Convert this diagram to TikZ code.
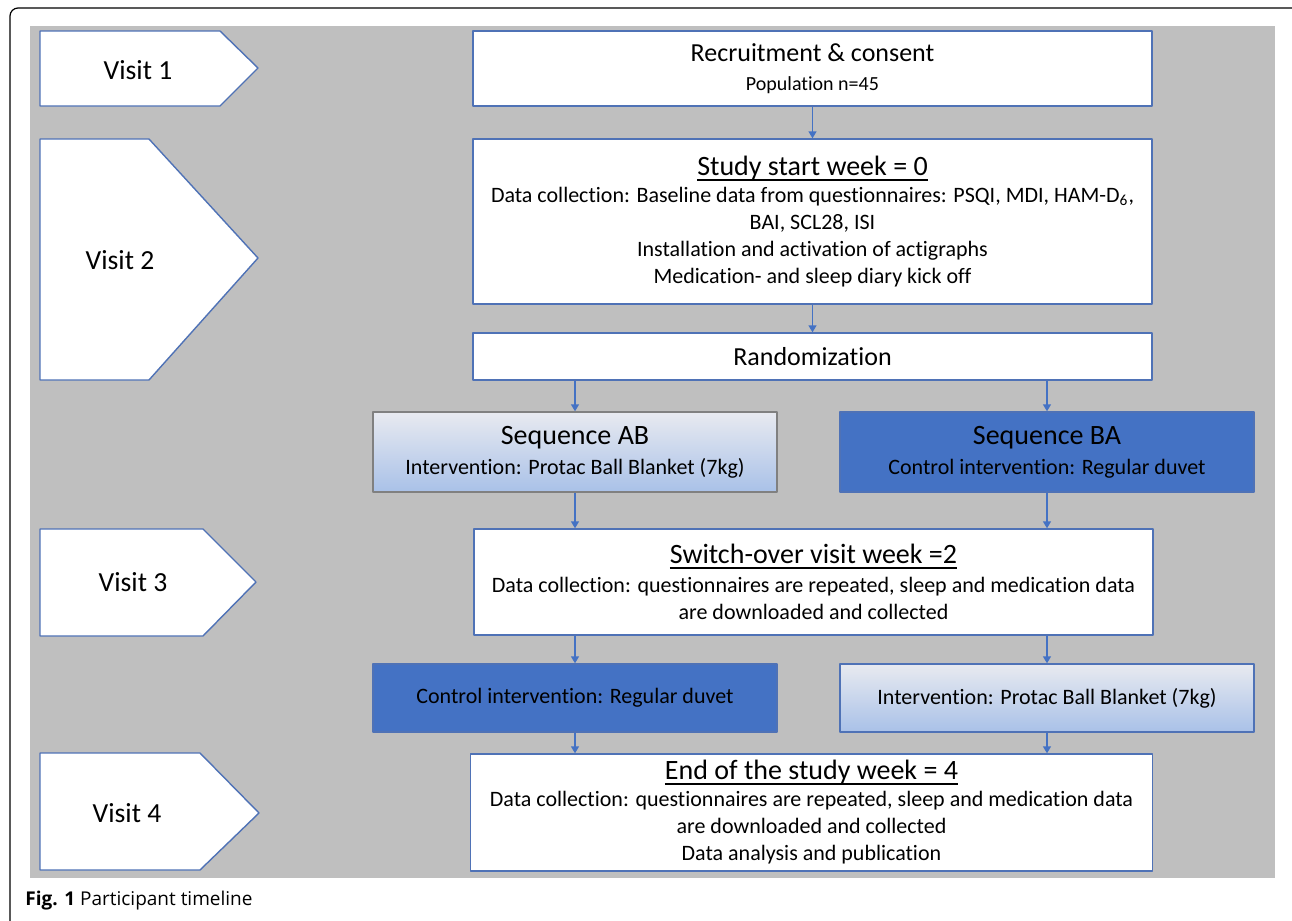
\documentclass[tikz,border=0pt]{standalone}
\usepackage{fontspec}
\setmainfont{Carlito}[Ligatures=NoCommon]
\newfontfamily\capfont{Open Sans}
\usetikzlibrary{arrows.meta}
\definecolor{panelgray}{HTML}{BFBFBF}
\definecolor{boxblue}{HTML}{4472C4}
\definecolor{edgeblue}{HTML}{4F72B6}
\definecolor{lightblue}{HTML}{A9C1E8}
\definecolor{paleblue}{HTML}{E8EAF0}
\newcommand{\titleul}[1]{\setbox0\hbox{#1}\rlap{\rule[-2.6pt]{\wd0}{0.9pt}}\box0}
\newcommand{\bigtxt}{\fontsize{14}{17}\selectfont}
\newcommand{\midtxt}{\fontsize{13}{16}\selectfont}
\newcommand{\smalltxt}{\fontsize{10}{12}\selectfont}
\begin{document}
\begin{tikzpicture}[x=0.5pt,y=-0.5pt,line join=round,
  box/.style={draw=edgeblue,line width=0.7pt,fill=white,inner sep=0pt,align=center,
    font=\fontsize{11}{13.5}\selectfont},
  darkbox/.style={box,fill=boxblue},
  fadebox/.style={box,top color=paleblue,bottom color=lightblue},
  visitedge/.style={draw=edgeblue,line width=0.7pt,fill=white},
  visitlbl/.style={font=\fontsize{13.8}{16}\selectfont},
  arr/.style={draw=boxblue,line width=0.75pt,-{Triangle[length=3.5pt,width=4pt]}}]
\useasboundingbox (0,0) rectangle (1292,921);
% frame and panel
\draw[line width=0.6pt,rounded corners=4pt] (10,8) rectangle (1300,940);
\fill[panelgray] (30,26) rectangle (1275,878);
% visit markers
\draw[visitedge] (40,31)--(220,31)--(258,68)--(220,106)--(40,106)--cycle;
\draw[visitedge] (40,139)--(149,139)--(258,258)--(149,380)--(40,380)--cycle;
\draw[visitedge] (40,529)--(203,529)--(256,582)--(203,636)--(40,636)--cycle;
\draw[visitedge] (40,753)--(200,753)--(259,813)--(200,870)--(40,870)--cycle;
\node[visitlbl] (v1) at (138,70) {Visit 1};
\node[visitlbl] (v2) at (120,260) {Visit 2};
\node[visitlbl] (v3) at (133,582) {Visit 3};
\node[visitlbl] (v4) at (127,813) {Visit 4};
% boxes
\node[box,minimum width=339.5pt,minimum height=37.5pt] (recruit) at (812.5,68.5)
  {{\midtxt Recruitment \& consent}\\[1pt]{\smalltxt Population n=45}};
\node[box,minimum width=339.5pt,minimum height=82.5pt] (start) at (812.5,221.5)
  {{\bigtxt\titleul{Study start week = 0}}\\
   Data collection: Baseline data from questionnaires: PSQI, MDI, HAM-D\textsubscript{6},\\
   BAI, SCL28, ISI\\ Installation and activation of actigraphs\\ Medication- and sleep diary kick off};
\node[box,minimum width=339.5pt,minimum height=23.5pt,font=\midtxt] (random) at (812.5,356.5) {Randomization};
\node[fadebox,draw=gray,minimum width=202pt,minimum height=40pt] (seqAB) at (575,452)
  {{\bigtxt Sequence AB}\\[1.5pt] Intervention: Protac Ball Blanket (7kg)};
\node[darkbox,minimum width=207pt,minimum height=40pt] (seqBA) at (1047,452)
  {{\bigtxt Sequence BA}\\[1.5pt] Control intervention: Regular duvet};
\node[box,minimum width=339.5pt,minimum height=53pt] (switch) at (813.5,582)
  {{\bigtxt\titleul{Switch-over visit week =2}}\\[1pt]
   Data collection: questionnaires are repeated, sleep and medication data\\ are downloaded and collected};
\node[darkbox,minimum width=202pt,minimum height=34pt] (ctrl) at (575,698) {Control intervention: Regular duvet};
\node[fadebox,minimum width=207pt,minimum height=34pt] (intv) at (1047,698) {Intervention: Protac Ball Blanket (7kg)};
\node[box,minimum width=341pt,minimum height=58.5pt] (end) at (811.5,812.5)
  {{\bigtxt\titleul{End of the study week = 4}}\\
   Data collection: questionnaires are repeated, sleep and medication data\\ are downloaded and collected\\
   Data analysis and publication};
% connectors
\draw[arr] (recruit) -- (start);
\draw[arr] (start) -- (random);
\draw[arr] (random.south -| seqAB.north) -- (seqAB.north);
\draw[arr] (random.south -| seqBA.north) -- (seqBA.north);
\draw[arr] (seqAB) -- (switch.north -| seqAB.south);
\draw[arr] (seqBA) -- (switch.north -| seqBA.south);
\draw[arr] (switch.south -| ctrl.north) -- (ctrl.north);
\draw[arr] (switch.south -| intv.north) -- (intv.north);
\draw[arr] (ctrl) -- (end.north -| ctrl.south);
\draw[arr] (intv) -- (end.north -| intv.south);
% caption
\node[anchor=base west,font=\capfont\fontsize{9.5}{11}\selectfont,inner sep=0pt] (cap) at (25,905)
  {\textbf{Fig. 1} Participant timeline};
\end{tikzpicture}
\end{document}
